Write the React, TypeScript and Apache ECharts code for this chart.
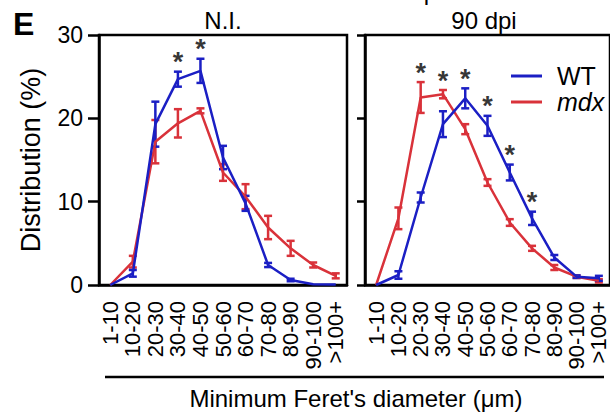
import React, { useEffect, useRef } from "react";
import * as echarts from "echarts";

const categories = ["1-10", "10-20", "20-30", "30-40", "40-50", "50-60", "60-70", "70-80", "80-90", "90-100", ">100+"];

// N.I. panel
const niWT = [0, 1.4, 19.3, 24.7, 25.7, 15.3, 9.8, 2.4, 0.6, 0.1, 0.05];
const niWTErr = [0, 0.4, 2.7, 0.9, 1.45, 1.4, 0.9, 0.25, 0.15, 0, 0];
const niMdx = [0, 2.8, 17.2, 19.4, 20.9, 13.5, 10.6, 6.9, 4.4, 2.4, 1.1];
const niMdxErr = [0, 0.7, 2.6, 1.7, 0.3, 1.0, 1.5, 1.4, 0.9, 0.3, 0.3];
const niSig = ["30-40", "40-50"];

// 90 dpi panel
const dpiWT = [0, 1.2, 10.5, 19.3, 22.4, 19.1, 13.5, 8.0, 3.3, 1.0, 0.8];
const dpiWTErr = [0, 0.45, 0.6, 1.55, 1.2, 1.2, 0.95, 0.8, 0.3, 0.15, 0.3];
const dpiMdx = [0, 8.0, 22.5, 22.9, 18.7, 12.3, 7.5, 4.4, 2.1, 1.0, 0.5];
const dpiMdxErr = [0, 1.3, 1.85, 0.5, 0.6, 0.4, 0.4, 0.3, 0.3, 0.15, 0.2];
const dpiSig = ["20-30", "30-40", "40-50", "50-60", "60-70", "70-80"];

const yTicks = [0, 10, 20, 30];

const BLUE = "#1b1fc4";
const RED = "#d9323a";
const FONT = "Liberation Sans, Arial, sans-serif";

function errData(vals: number[], errs: number[]) {
  return vals.map((v, i) => [i, v - errs[i], v + errs[i]]);
}

function errSeries(vals: number[], errs: number[], color: string, idx: number) {
  return {
    type: "custom",
    xAxisIndex: idx,
    yAxisIndex: idx,
    silent: true,
    z: 3,
    encode: { x: 0, y: [1, 2] },
    data: errData(vals, errs),
    renderItem: (params: any, api: any) => {
      const x = api.value(0);
      const lo = api.value(1);
      const hi = api.value(2);
      if (hi - lo < 0.05) return null;
      const p1 = api.coord([x, hi]);
      const p2 = api.coord([x, lo]);
      const w = 4;
      const st = { stroke: color, lineWidth: 2.5 };
      return {
        type: "group",
        children: [
          { type: "line", shape: { x1: p1[0], y1: p1[1], x2: p2[0], y2: p2[1] }, style: st },
          { type: "line", shape: { x1: p1[0] - w, y1: p1[1], x2: p1[0] + w, y2: p1[1] }, style: st },
          { type: "line", shape: { x1: p2[0] - w, y1: p2[1], x2: p2[0] + w, y2: p2[1] }, style: st },
        ],
      };
    },
  };
}

function lineSeries(name: string, vals: number[], color: string, idx: number) {
  return {
    type: "line",
    name,
    xAxisIndex: idx,
    yAxisIndex: idx,
    data: vals,
    symbol: "none",
    z: 4,
    lineStyle: { color, width: 2.5 },
    itemStyle: { color },
  };
}

function sigSeries(sig: string[], a: number[], ae: number[], b: number[], be: number[], idx: number) {
  const data = sig.map((c) => {
    const i = categories.indexOf(c);
    return [i, Math.max(a[i] + ae[i], b[i] + be[i])];
  });
  return {
    type: "scatter",
    xAxisIndex: idx,
    yAxisIndex: idx,
    symbolSize: 0,
    silent: true,
    z: 5,
    data,
    label: {
      show: true,
      formatter: "*",
      position: "top",
      distance: -4,
      color: "#000",
      fontSize: 27,
      fontWeight: "bold",
      fontFamily: FONT,
    },
  };
}

function xAxis(gridIndex: number) {
  return {
    type: "category",
    gridIndex,
    data: categories,
    boundaryGap: true,
    axisLine: { lineStyle: { color: "#000", width: 2.5 } },
    axisTick: { alignWithLabel: true, length: 11, lineStyle: { color: "#000", width: 2.5 } },
    axisLabel: {
      interval: 0,
      rotate: 90,
      margin: 16,
      fontSize: 22,
      color: "#000",
      fontFamily: FONT,
    },
  };
}

export default function App() {
  const ref = useRef<HTMLDivElement>(null);
  useEffect(() => {
    if (!ref.current) return;
    const chart = echarts.init(ref.current, null, { renderer: "svg" });
    chart.setOption({
      animation: false,
      backgroundColor: "#fff",
      grid: [
        { left: 99, top: 35, width: 248, height: 250, show: true, borderColor: "#000", borderWidth: 2.5 },
        { left: 365, top: 35, width: 249, height: 250, show: true, borderColor: "#000", borderWidth: 2.5 },
      ],
      xAxis: [xAxis(0), xAxis(1)],
      yAxis: [
        {
          type: "value",
          gridIndex: 0,
          min: 0,
          max: 30,
          interval: 10,
          name: "Distribution (%)",
          nameLocation: "middle",
          nameRotate: 90,
          nameGap: 55,
          nameTextStyle: { fontSize: 27, color: "#000", fontFamily: FONT },
          splitLine: { show: false },
          axisLine: { show: true, lineStyle: { color: "#000", width: 2.5 } },
          axisTick: { show: true, length: 11, lineStyle: { color: "#000", width: 2.5 } },
          axisLabel: {
            margin: 16,
            fontSize: 23,
            color: "#000",
            fontFamily: FONT,
            formatter: (v: number) => (yTicks.includes(v) ? String(v) : ""),
          },
        },
        {
          type: "value",
          gridIndex: 1,
          min: 0,
          max: 30,
          interval: 10,
          splitLine: { show: false },
          axisLine: { show: true, lineStyle: { color: "#000", width: 2.5 } },
          axisTick: { show: true, length: 8, lineStyle: { color: "#000", width: 2.5 } },
          axisLabel: { show: false },
        },
      ],
      legend: {
        left: 506,
        top: 58,
        orient: "vertical",
        icon: "rect",
        itemWidth: 31,
        itemHeight: 3,
        itemGap: 0,
        data: ["WT", "mdx"],
        formatter: (name: string) => (name === "mdx" ? "{it|mdx}" : "{n|WT}"),
        textStyle: {
          color: "#000",
          fontFamily: FONT,
          fontSize: 25,
          rich: {
            n: { fontSize: 25, height: 26, lineHeight: 26, fontFamily: FONT, color: "#000", padding: [0, 0, 0, 10] },
            it: { fontSize: 25, height: 26, lineHeight: 26, fontStyle: "italic", fontFamily: FONT, color: "#000", padding: [0, 0, 0, 10] },
          },
        },
      },
      graphic: [
        { type: "text", left: 13, top: 8, style: { text: "E", fontSize: 32, fontWeight: "bold", fontFamily: FONT, fill: "#000" } },
        { type: "text", x: 223, y: 20, style: { text: "N.I.", fontSize: 24, fontFamily: FONT, fill: "#000", textAlign: "center", textVerticalAlign: "middle" } },
        { type: "text", x: 484, y: 20, style: { text: "90 dpi", fontSize: 24, fontFamily: FONT, fill: "#000", textAlign: "center", textVerticalAlign: "middle" } },
        { type: "text", x: 273, y: -9, style: { text: "N.I.", fontSize: 24, fontFamily: FONT, fill: "#000", textAlign: "left", textVerticalAlign: "middle" } },
        { type: "text", x: 377, y: -9, style: { text: "90 dpi", fontSize: 24, fontFamily: FONT, fill: "#000", textAlign: "left", textVerticalAlign: "middle" } },
        { type: "line", shape: { x1: 105, y1: 377, x2: 604, y2: 377 }, style: { stroke: "#000", lineWidth: 2.5 } },
        { type: "text", x: 356, y: 398, style: { text: "Minimum Feret's diameter (μm)", fontSize: 24, fontFamily: FONT, fill: "#000", textAlign: "center", textVerticalAlign: "middle" } },
      ],
      series: [
        errSeries(niMdx, niMdxErr, RED, 0),
        lineSeries("mdx", niMdx, RED, 0),
        errSeries(niWT, niWTErr, BLUE, 0),
        lineSeries("WT", niWT, BLUE, 0),
        sigSeries(niSig, niWT, niWTErr, niMdx, niMdxErr, 0),
        errSeries(dpiMdx, dpiMdxErr, RED, 1),
        lineSeries("mdx", dpiMdx, RED, 1),
        errSeries(dpiWT, dpiWTErr, BLUE, 1),
        lineSeries("WT", dpiWT, BLUE, 1),
        sigSeries(dpiSig, dpiWT, dpiWTErr, dpiMdx, dpiMdxErr, 1),
      ],
    });
    return () => chart.dispose();
  }, []);
  return <div ref={ref} style={{ width: 610, height: 414, position: "absolute", left: 0, top: 0 }} />;
}
